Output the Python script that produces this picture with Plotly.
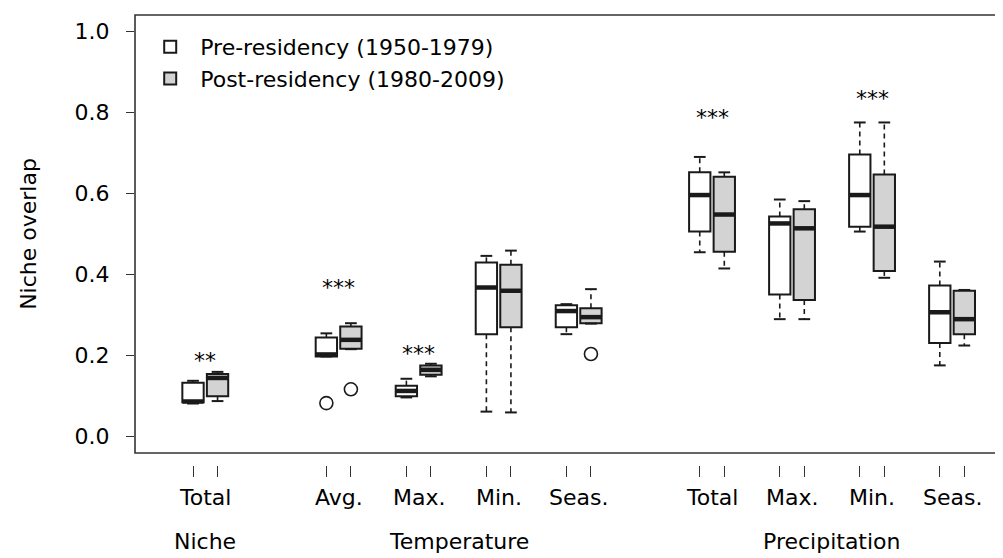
import plotly.graph_objects as go

# categorias y grupos
categorias = ["Total", "Avg.", "Max.", "Min.", "Seas.", "Total", "Max.", "Min.", "Seas."]
grupos = ["Niche", "Temperature", "Precipitation"]
grupo_de = [0, 1, 1, 1, 1, 2, 2, 2, 2]

pos_pre = [1, 6, 9, 12, 15, 20, 23, 26, 29]
pos_post = [p + 0.92 for p in pos_pre]

# Pre-residency (1950-1979)
pre_min = [0.082, 0.198, 0.097, 0.062, 0.253, 0.455, 0.290, 0.506, 0.176]
pre_q1 = [0.085, 0.198, 0.100, 0.253, 0.270, 0.506, 0.351, 0.518, 0.231]
pre_med = [0.087, 0.203, 0.113, 0.368, 0.310, 0.596, 0.526, 0.596, 0.307]
pre_q3 = [0.133, 0.245, 0.126, 0.430, 0.324, 0.652, 0.543, 0.696, 0.373]
pre_max = [0.138, 0.255, 0.143, 0.446, 0.327, 0.690, 0.585, 0.775, 0.432]

# Post-residency (1980-2009)
post_min = [0.088, 0.216, 0.149, 0.060, 0.279, 0.415, 0.290, 0.392, 0.225]
post_q1 = [0.100, 0.217, 0.153, 0.270, 0.280, 0.456, 0.337, 0.409, 0.253]
post_med = [0.145, 0.239, 0.165, 0.360, 0.295, 0.548, 0.514, 0.518, 0.290]
post_q3 = [0.155, 0.272, 0.176, 0.424, 0.317, 0.641, 0.561, 0.647, 0.360]
post_max = [0.160, 0.280, 0.180, 0.459, 0.364, 0.652, 0.581, 0.775, 0.362]

# valores atipicos (indice de categoria, valor)
atipicos_pre = [(1, 0.083)]
atipicos_post = [(1, 0.117), (4, 0.204)]

# significancia
signif = ["**", "***", "***", "", "", "***", "", "***", ""]
signif_y = [0.197, 0.377, 0.214, 0, 0, 0.798, 0, 0.845, 0]

FUENTE = "DejaVu Sans, sans-serif"
TAM = 22
NEGRO = "#1a1a1a"

fig = go.Figure()


def agregar_serie(pos, mn, q1, med, q3, mx, relleno, nombre):
    fig.add_trace(go.Box(x=pos, q1=q1, median=med, q3=q3, lowerfence=q1, upperfence=q3,
                         width=0.8, fillcolor=relleno, line=dict(color=NEGRO, width=2),
                         whiskerwidth=0, name=nombre, boxpoints=False, hoverinfo="skip"))
    # bigotes punteados
    bx, by = [], []
    for x, a, b, c, d in zip(pos, mn, q1, q3, mx):
        bx += [x, x, None, x, x, None]
        by += [b, a, None, c, d, None]
    fig.add_trace(go.Scatter(x=bx, y=by, mode="lines", showlegend=False, hoverinfo="skip",
                             line=dict(color=NEGRO, width=1.6, dash="5px,4px")))
    # topes de bigotes
    tx, ty = [], []
    for x, a, d in zip(pos, mn, mx):
        tx += [x - 0.22, x + 0.22, None, x - 0.22, x + 0.22, None]
        ty += [a, a, None, d, d, None]
    fig.add_trace(go.Scatter(x=tx, y=ty, mode="lines", showlegend=False, hoverinfo="skip",
                             line=dict(color=NEGRO, width=2)))
    # medianas gruesas
    mx_, my_ = [], []
    for x, m in zip(pos, med):
        mx_ += [x - 0.4, x + 0.4, None]
        my_ += [m, m, None]
    fig.add_trace(go.Scatter(x=mx_, y=my_, mode="lines", showlegend=False, hoverinfo="skip",
                             line=dict(color=NEGRO, width=4.5)))


agregar_serie(pos_pre, pre_min, pre_q1, pre_med, pre_q3, pre_max, "white", "Pre-residency (1950-1979)")
agregar_serie(pos_post, post_min, post_q1, post_med, post_q3, post_max, "#d3d3d3", "Post-residency (1980-2009)")

# atipicos
ox = [pos_pre[i] for i, v in atipicos_pre] + [pos_post[i] for i, v in atipicos_post]
oy = [v for i, v in atipicos_pre] + [v for i, v in atipicos_post]
fig.add_trace(go.Scatter(x=ox, y=oy, mode="markers", showlegend=False, hoverinfo="skip",
                         marker=dict(symbol="circle-open", size=13, color=NEGRO, line=dict(width=1.6))))

# etiquetas de categorias, grupos y estrellas
centros = [(a + b) / 2 for a, b in zip(pos_pre, pos_post)]
for c, txt in zip(centros, categorias):
    fig.add_annotation(x=c, y=-0.0733, xref="x", yref="paper", text=txt, showarrow=False,
                       yanchor="middle", xanchor="center",
                       font=dict(family=FUENTE, size=TAM, color="black"))
for g, nombre in enumerate(grupos):
    cs = [c for c, k in zip(centros, grupo_de) if k == g]
    fig.add_annotation(x=(cs[0] + cs[-1]) / 2, y=-0.169, xref="x", yref="paper", text=nombre,
                       showarrow=False, yanchor="middle", xanchor="center",
                       font=dict(family=FUENTE, size=TAM, color="black"))
for c, s, y in zip(centros, signif, signif_y):
    if s:
        fig.add_annotation(x=c, y=y, xref="x", yref="y", text=s, showarrow=False, yshift=-4,
                           font=dict(family=FUENTE, size=22, color="black"))

# marco
fig.add_shape(type="rect", xref="x domain", yref="y domain", x0=0, x1=1.05, y0=0, y1=1,
              line=dict(color="#333333", width=1.6), layer="above")

fig.update_layout(
    width=995, height=550,
    margin=dict(l=127, r=0, t=7, b=93),
    plot_bgcolor="white", paper_bgcolor="white",
    font=dict(family=FUENTE, size=TAM, color="black"),
    showlegend=True,
    legend=dict(x=0.006, y=0.9756, xanchor="left", yanchor="top", bgcolor="rgba(0,0,0,0)",
                font=dict(family=FUENTE, size=TAM), tracegroupgap=0, itemwidth=50),
    xaxis=dict(range=[-1.175, 31.37], anchor="free", position=0, showline=False,
               showgrid=False, zeroline=False, ticks="outside", ticklen=11, tickwidth=1.3,
               tickcolor="#333333", tickvals=pos_pre + pos_post, showticklabels=False),
    yaxis=dict(range=[-0.04, 1.04], domain=[0.0267, 1], showline=False, showgrid=False,
               zeroline=False, ticks="outside", ticklen=8, tickwidth=1.3, tickcolor="#333333",
               tickvals=[0, 0.2, 0.4, 0.6, 0.8, 1.0], ticktext=["0.0", "0.2", "0.4", "0.6", "0.8", "1.0"],
               ticklabelstandoff=12,
               title=dict(text="Niche overlap", standoff=31, font=dict(family=FUENTE, size=TAM))),
)

fig.write_html("out.html")
